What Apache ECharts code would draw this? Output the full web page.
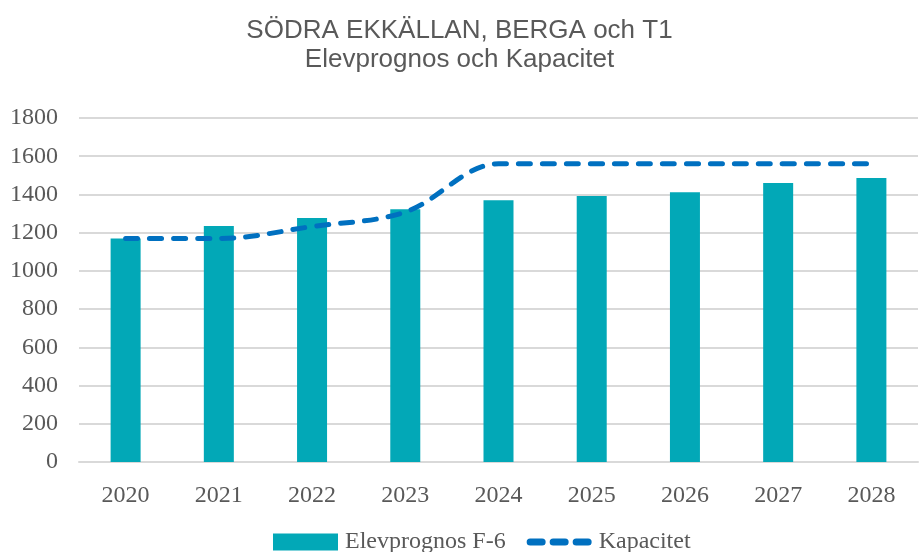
<!DOCTYPE html>
<html lang="sv">
<head>
    <meta charset="UTF-8">
    <title>Elevprognos och Kapacitet</title>
    <script src="https://cdn.jsdelivr.net/npm/echarts@6/dist/echarts.min.js"></script>
    <style>
        html, body { margin: 0; padding: 0; background: #fff; }
    </style>
</head>
<body>
<div id="main" style="width: 919px;height:552px;"></div>
<script type="text/javascript">
    // data
    var years = ['2020', '2021', '2022', '2023', '2024', '2025', '2026', '2027', '2028'];
    var elevprognos = [1170, 1235, 1277, 1322, 1370, 1392, 1412, 1460, 1486];
    var kapacitet = [1170, 1170, 1232, 1308, 1560, 1560, 1560, 1560, 1560];
    var yTicks = [0, 200, 400, 600, 800, 1000, 1200, 1400, 1600, 1800];

    var serif = '"Liberation Serif", "Times New Roman", serif';
    var textColor = '#595959';

    // legend icon for the dashed line: three rounded dashes
    var dashIcon = 'path://M3.5,0H15.5A3.5,3.5 0 0 1 15.5,7H3.5A3.5,3.5 0 0 1 3.5,0Z' +
        'M26.5,0H38.5A3.5,3.5 0 0 1 38.5,7H26.5A3.5,3.5 0 0 1 26.5,0Z' +
        'M49.5,0H61.5A3.5,3.5 0 0 1 61.5,7H49.5A3.5,3.5 0 0 1 49.5,0Z';

    var myChart = echarts.init(document.getElementById('main'));
    var option = {
        animation: false,
        title: {
            text: 'SÖDRA EKKÄLLAN, BERGA och T1\nElevprognos och Kapacitet',
            left: 'center',
            top: 11,
            textStyle: {
                fontFamily: '"Liberation Sans", Arial, sans-serif',
                fontWeight: 'normal',
                fontSize: 26,
                lineHeight: 29,
                color: textColor
            }
        },
        grid: {
            left: 79,
            right: 1,
            top: 118,
            bottom: 90
        },
        legend: {
            top: 525,
            left: 268,
            itemWidth: 65,
            itemHeight: 17,
            itemGap: 21,
            textStyle: {
                fontFamily: serif,
                fontSize: 24,
                color: textColor,
                padding: [0, 0, 0, 2]
            },
            data: [
                { name: 'Elevprognos F-6', icon: 'rect' },
                { name: 'Kapacitet', icon: dashIcon, itemStyle: { color: '#0070C0' } }
            ]
        },
        xAxis: {
            type: 'category',
            data: years,
            axisTick: { show: false },
            axisLine: { show: true, lineStyle: { color: '#d9d9d9', width: 2 } },
            axisLabel: {
                margin: 22,
                fontFamily: serif,
                fontSize: 24,
                color: textColor
            }
        },
        yAxis: {
            type: 'value',
            min: yTicks[0],
            max: yTicks[yTicks.length - 1],
            interval: 200,
            axisLine: { show: false },
            axisTick: { show: false },
            axisLabel: {
                margin: 21,
                fontFamily: serif,
                fontSize: 24,
                color: textColor,
                formatter: function (v) { return String(v); }
            },
            splitLine: { lineStyle: { color: '#d9d9d9', width: 2 } }
        },
        series: [
            {
                name: 'Elevprognos F-6',
                type: 'bar',
                data: elevprognos,
                barWidth: 30,
                itemStyle: { color: '#02A8B7' }
            },
            {
                name: 'Kapacitet',
                type: 'line',
                data: kapacitet,
                smooth: 0.35,
                symbol: 'none',
                lineStyle: {
                    color: '#0070C0',
                    width: 5,
                    type: [12, 12],
                    cap: 'round'
                },
                itemStyle: { color: '#0070C0' }
            }
        ]
    };
    myChart.setOption(option);
</script>
</body>
</html>
